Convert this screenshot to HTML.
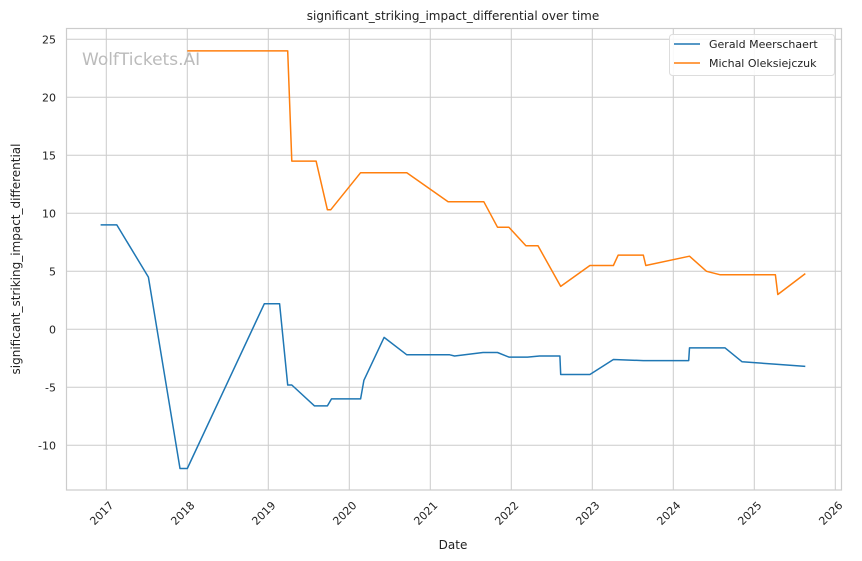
<!DOCTYPE html>
<html><head><meta charset="utf-8"><style>
html,body{margin:0;padding:0;background:#fff;}
svg{display:block;font-family:"DejaVu Sans","Liberation Sans",sans-serif;}
</style></head><body>
<svg id="chart" width="862" height="561" viewBox="0 0 862 561">
<rect x="0" y="0" width="862" height="561" fill="#fff"/>
<text x="453" y="20" text-anchor="middle" font-size="12" fill="#222">significant_striking_impact_differential over time</text>
<g id="grid"></g>
<text x="82" y="65" font-size="17" fill="#bbb">WolfTickets.AI</text>
<g id="series"></g>
<rect x="66.5" y="28.5" width="775" height="461.5" fill="none" stroke="#ccc" stroke-width="1.2"/>
<g id="ticks"></g>
<text x="453" y="549" text-anchor="middle" font-size="12" fill="#222">Date</text>
<text transform="translate(20,259) rotate(-90)" text-anchor="middle" font-size="12" fill="#222">significant_striking_impact_differential</text>
<g>
<rect x="669.5" y="34.5" width="165" height="41" rx="3" fill="#fff" fill-opacity="0.85" stroke="#ddd"/>
<line x1="674" y1="44" x2="700" y2="44" stroke="#1f77b4" stroke-width="1.6"/>
<text x="709" y="48" font-size="11" fill="#222">Gerald Meerschaert</text>
<line x1="674" y1="63" x2="700" y2="63" stroke="#ff7f0e" stroke-width="1.6"/>
<text x="709" y="67" font-size="11" fill="#222">Michal Oleksiejczuk</text>
</g>
</svg>
<script>
const xTickYears = [2017,2018,2019,2020,2021,2022,2023,2024,2025,2026];
const yTickValues = [-10,-5,0,5,10,15,20,25];
const geraldDates = [2016.93,2017.13,2017.52,2017.91,2018.0,2018.95,2019.14,2019.24,2019.29,2019.57,2019.73,2019.78,2020.14,2020.18,2020.43,2020.71,2021.24,2021.30,2021.65,2021.83,2021.97,2022.2,2022.35,2022.6,2022.61,2022.97,2023.26,2023.63,2024.19,2024.2,2024.64,2024.85,2025.25,2025.63];
const geraldValues = [9.0,9.0,4.5,-12.0,-12.0,2.2,2.2,-4.8,-4.8,-6.6,-6.6,-6.0,-6.0,-4.4,-0.7,-2.2,-2.2,-2.3,-2.0,-2.0,-2.4,-2.4,-2.3,-2.3,-3.9,-3.9,-2.6,-2.7,-2.7,-1.6,-1.6,-2.8,-3.0,-3.2];
const michalDates = [2018.0,2019.24,2019.29,2019.59,2019.73,2019.77,2020.14,2020.71,2021.22,2021.66,2021.83,2021.97,2022.18,2022.33,2022.61,2022.97,2023.26,2023.32,2023.63,2023.66,2024.2,2024.41,2024.58,2025.26,2025.29,2025.63];
const michalValues = [24.0,24.0,14.5,14.5,10.3,10.3,13.5,13.5,11.0,11.0,8.8,8.8,7.2,7.2,3.7,5.5,5.5,6.4,6.4,5.5,6.3,5.0,4.7,4.7,3.0,4.8];

const NS = "http://www.w3.org/2000/svg";
function xScale(yr){ return 106.3 + 81*(yr-2017); }
function yScale(v){ return 329.3 - 11.6*v; }
const grid = document.getElementById('grid');
const ticks = document.getElementById('ticks');
const series = document.getElementById('series');
xTickYears.forEach(yr=>{
  const x = xScale(yr);
  const l = document.createElementNS(NS,'line');
  l.setAttribute('x1',x);l.setAttribute('x2',x);l.setAttribute('y1',28.5);l.setAttribute('y2',490);
  l.setAttribute('stroke','#ccc');l.setAttribute('stroke-width','1');
  
  
  grid.appendChild(l);
  const t = document.createElementNS(NS,'text');
  t.setAttribute('transform','translate('+(x+8)+',506) rotate(-45)');
  t.setAttribute('text-anchor','end');t.setAttribute('font-size','11');t.setAttribute('fill','#222');
  t.textContent = yr;
  
  
  ticks.appendChild(t);
});
yTickValues.forEach(v=>{
  const y = yScale(v);
  const l = document.createElementNS(NS,'line');
  l.setAttribute('x1',66.5);l.setAttribute('x2',841.5);l.setAttribute('y1',y);l.setAttribute('y2',y);
  l.setAttribute('stroke','#ccc');l.setAttribute('stroke-width','1');
  
  
  grid.appendChild(l);
  const t = document.createElementNS(NS,'text');
  t.setAttribute('x',56);t.setAttribute('y',y+4);
  t.setAttribute('text-anchor','end');t.setAttribute('font-size','11');t.setAttribute('fill','#222');
  t.textContent = v;
  
  
  ticks.appendChild(t);
});
function drawLine(dates, vals, color, name){
  const p = document.createElementNS(NS,'polyline');
  p.setAttribute('points', dates.map((d,i)=>xScale(d).toFixed(1)+','+yScale(vals[i]).toFixed(1)).join(' '));
  p.setAttribute('fill','none');p.setAttribute('stroke',color);p.setAttribute('stroke-width','1.5');
  p.setAttribute('stroke-linejoin','round');
  
  
  series.appendChild(p);
}
drawLine(michalDates, michalValues, '#ff7f0e', 'michal-line');
drawLine(geraldDates, geraldValues, '#1f77b4', 'gerald-line');
</script>
</body></html>
